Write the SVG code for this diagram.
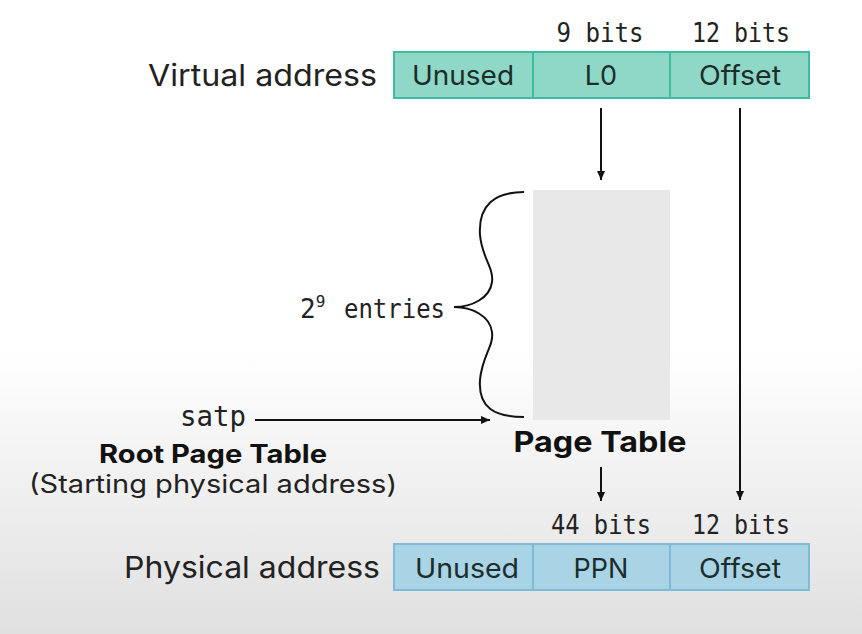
<svg xmlns="http://www.w3.org/2000/svg" width="862" height="634" viewBox="0 0 862 634">
<defs>
<linearGradient id="bg" x1="0" y1="0" x2="0" y2="1">
<stop offset="0" stop-color="#ffffff"/>
<stop offset="0.55" stop-color="#ffffff"/>
<stop offset="1" stop-color="#e0e0e0"/>
</linearGradient>
<marker id="ah" viewBox="0 0 10 10" refX="10" refY="5" markerWidth="9" markerHeight="9" markerUnits="userSpaceOnUse" orient="auto">
<path d="M0,0.5 L10,5 L0,9.5 z" fill="#111"/>
</marker>
<style>
.lbl{font-family:Inter,"Liberation Sans",sans-serif;font-size:30px;fill:#222}
.sub{font-family:Inter,"Liberation Sans",sans-serif;font-size:25px;fill:#222;text-anchor:middle}
.cell{font-family:Inter,"Liberation Sans",sans-serif;font-size:27px;fill:#1c2d2b;text-anchor:middle}
.mono{font-family:"DejaVu Sans Mono","Liberation Mono",monospace;font-size:24px;fill:#222}
.bold{font-family:Inter,"Liberation Sans",sans-serif;font-weight:bold;fill:#111;text-anchor:middle}
.va{fill:#8fd7c6;stroke:#3fbc9f;stroke-width:2}
.pa{fill:#a9d4e6;stroke:#7fbad6;stroke-width:2}
.conn{stroke:#111;stroke-width:2;fill:none}
</style>
</defs>
<rect width="862" height="634" fill="url(#bg)"/>

<g id="virtual-address">
<text class="lbl" x="377" y="86" text-anchor="end" textLength="229" lengthAdjust="spacingAndGlyphs">Virtual address</text>
<rect class="va" x="394" y="52" width="139" height="46"/>
<rect class="va" x="533" y="52" width="137" height="46"/>
<rect class="va" x="670" y="52" width="139" height="46"/>
<text class="cell" x="463" y="85" textLength="102" lengthAdjust="spacingAndGlyphs">Unused</text>
<text class="cell" x="601" y="85">L0</text>
<text class="cell" x="740" y="85" textLength="82" lengthAdjust="spacingAndGlyphs">Offset</text>
<text class="mono" x="600" y="42" text-anchor="middle" textLength="87" lengthAdjust="spacingAndGlyphs" style="font-size:26px">9 bits</text>
<text class="mono" x="741" y="42" text-anchor="middle" textLength="98" lengthAdjust="spacingAndGlyphs" style="font-size:26px">12 bits</text>
</g>

<g id="page-table">
<rect x="533" y="190" width="137" height="230" fill="#e8e8e8"/>
<text class="bold" x="600" y="452" style="font-size:29px" textLength="173" lengthAdjust="spacingAndGlyphs">Page Table</text>
</g>

<g id="entries-brace">
<path class="conn" stroke-width="3" d="M524,192 C495,192 478,205 480,235 C482,258 494,268 492,282 C490,298 472,307 454,307 C472,307 490,316 492,332 C494,346 482,356 480,380 C478,408 495,417 524,417"/>
<text class="mono" x="300" y="318" style="font-size:26px">2<tspan style="font-size:16px" dy="-11">9</tspan><tspan dy="11" x="344" textLength="101" lengthAdjust="spacingAndGlyphs">entries</tspan></text>
</g>

<g id="satp">
<text class="mono" x="180" y="426" style="font-size:28px" textLength="66" lengthAdjust="spacingAndGlyphs">satp</text>
<text class="bold" x="213" y="463" style="font-size:25px" textLength="228" lengthAdjust="spacingAndGlyphs">Root Page Table</text>
<text class="sub" x="213" y="493" textLength="368" lengthAdjust="spacingAndGlyphs">(Starting physical address)</text>
</g>

<g id="physical-address">
<text class="lbl" x="380" y="578" text-anchor="end" textLength="256" lengthAdjust="spacingAndGlyphs">Physical address</text>
<rect class="pa" x="394" y="544" width="139" height="46"/>
<rect class="pa" x="533" y="544" width="137" height="46"/>
<rect class="pa" x="670" y="544" width="139" height="46"/>
<text class="cell" x="467" y="578" textLength="104" lengthAdjust="spacingAndGlyphs">Unused</text>
<text class="cell" x="601" y="578">PPN</text>
<text class="cell" x="740" y="578" textLength="82" lengthAdjust="spacingAndGlyphs">Offset</text>
<text class="mono" x="601" y="534" text-anchor="middle" textLength="100" lengthAdjust="spacingAndGlyphs" style="font-size:26px">44 bits</text>
<text class="mono" x="741" y="534" text-anchor="middle" textLength="98" lengthAdjust="spacingAndGlyphs" style="font-size:26px">12 bits</text>
</g>

<g id="connectors">
<line class="conn" x1="601" y1="108" x2="601" y2="180" marker-end="url(#ah)"/>
<line class="conn" x1="740" y1="108" x2="740" y2="500" marker-end="url(#ah)"/>
<line class="conn" x1="255" y1="420" x2="490" y2="420" marker-end="url(#ah)"/>
<line class="conn" x1="601" y1="467" x2="601" y2="501" marker-end="url(#ah)"/>
</g>
</svg>
